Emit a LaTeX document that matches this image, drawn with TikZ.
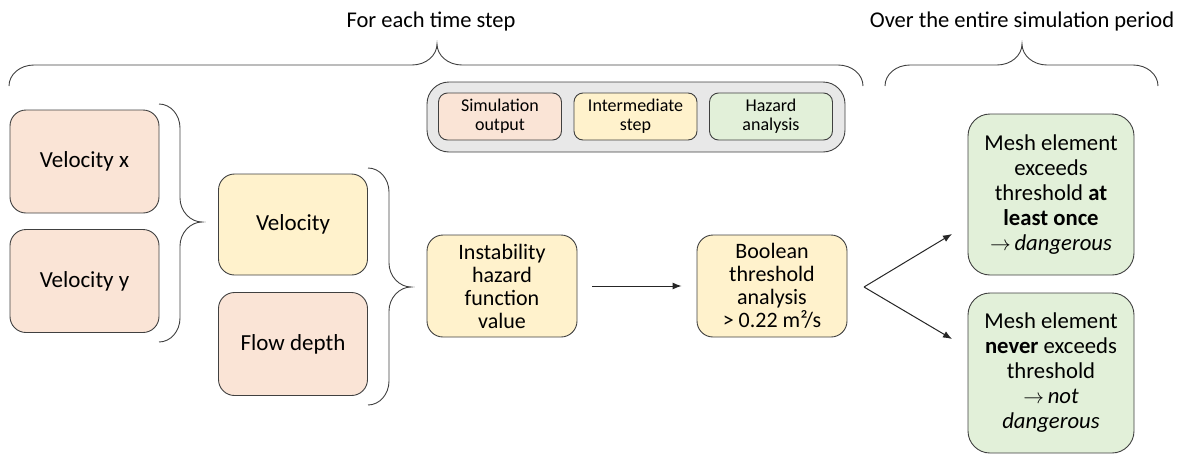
\documentclass[tikz,border=0pt]{standalone}
\usepackage{fontspec}
\setmainfont{Carlito}
\usetikzlibrary{arrows.meta}
\definecolor{simout}{RGB}{250,228,214}
\definecolor{interm}{RGB}{255,242,204}
\definecolor{hazard}{RGB}{226,240,217}
\definecolor{legendgray}{RGB}{232,232,232}
\definecolor{edgegray}{RGB}{64,64,64}

\tikzset{
  box/.style={draw=edgegray, line width=0.9pt, rounded corners=16pt, minimum width=149pt,
    minimum height=103pt, inner sep=0pt, align=center, font=\fontsize{23}{20}\selectfont},
  keybox/.style={draw=edgegray, line width=0.9pt, rounded corners=9pt, minimum width=123pt,
    minimum height=47pt, inner sep=0pt, align=center, font=\fontsize{18}{19}\selectfont},
  heading/.style={font=\fontsize{22.5}{24}\selectfont},
  bracepath/.style={draw=black!75, line width=0.9pt},
  flow/.style={draw=black!85, line width=1pt, -{Latex[length=9pt,width=7pt]}},
}

\begin{document}
\begin{tikzpicture}[x=1pt, y=-1pt]
\useasboundingbox (0,0) rectangle (1184,453);
% headings
\node[heading] (lbleach) at (431,21) {For each time step};
\node[heading] (lblover) at (1022,21) {Over the entire simulation period};
\foreach \xa/\xt/\xb in {9/437/863, 885/1022/1158} {
  \draw[bracepath] (\xa,86) .. controls (\xa,74.4) and ({\xa+11},65) .. ({\xa+25},65)
    -- ({\xt-25},65) .. controls ({\xt-11},65) and (\xt,55.4) .. (\xt,44)
    .. controls (\xt,55.4) and ({\xt+11},65) .. ({\xt+25},65)
    -- ({\xb-25},65) .. controls ({\xb-11},65) and (\xb,74.4) .. (\xb,86);
}
% legend
\node[draw=edgegray, line width=0.9pt, fill=legendgray, rounded corners=22pt,
  minimum width=418pt, minimum height=70pt] (legend) at (636,117) {};
\node[keybox, fill=simout] (keysim) at (500,116.5) {Simulation\\output};
\node[keybox, fill=interm] (keyint) at (635.5,116.5) {Intermediate\\step};
\node[keybox, fill=hazard] (keyhaz) at (771,116.5) {Hazard\\analysis};
% inputs
\node[box, fill=simout] (velx) at (84.5,161.5) {Velocity x};
\node[box, fill=simout] (vely) at (84.5,281) {Velocity y};
\node[box, fill=interm, minimum height=101pt] (vel) at (293,224.5) {Velocity};
\node[box, fill=simout] (depth) at (293,344) {Flow depth};
\foreach \x/\ya/\yt/\yb in {159/104/222/342, 368/168/287/405} {
  \draw[bracepath] (\x,\ya) .. controls ({\x+11.6},\ya) and ({\x+21},{\ya+10.8}) .. ({\x+21},{\ya+24})
    -- ({\x+21},{\yt-24}) .. controls ({\x+21},{\yt-10.8}) and ({\x+31.4},\yt) .. ({\x+43},\yt)
    .. controls ({\x+31.4},\yt) and ({\x+21},{\yt+10.8}) .. ({\x+21},{\yt+24})
    -- ({\x+21},{\yb-24}) .. controls ({\x+21},{\yb-10.8}) and ({\x+11.6},\yb) .. (\x,\yb);
}
% analysis
\node[box, fill=interm, minimum width=150pt, minimum height=102pt,
  font=\fontsize{22}{23}\selectfont] (ihf) at (502,286) {Instability\\hazard\\function\\value};
\node[box, fill=interm, minimum width=150pt, minimum height=102pt,
  font=\fontsize{22}{23}\selectfont] (thresh) at (772,286) {Boolean\\threshold\\analysis\\> 0.22 m²/s};
\draw[flow, shorten <=15pt, shorten >=15pt] (ihf) -- (thresh);
% outcome
\node[box, fill=hazard, minimum width=166pt, minimum height=161pt, rounded corners=22pt,
  font=\fontsize{22.7}{25}\selectfont] (danger) at (1051,194.5)
  {Mesh element\\exceeds\\threshold \textbf{at}\\\textbf{least once}\\$\rightarrow$\,\textit{dangerous}};
\node[box, fill=hazard, minimum width=166pt, minimum height=160pt, rounded corners=22pt,
  font=\fontsize{22.7}{25}\selectfont] (safe) at (1051,373)
  {Mesh element\\\textbf{never} exceeds\\threshold\\$\rightarrow$\,\textit{not}\\\textit{dangerous}};
\coordinate (fork) at (864,287);
\coordinate (tipup) at (952,234);
\coordinate (tipdown) at (952,339);
\draw[flow] (fork) -- (tipup);
\draw[flow] (fork) -- (tipdown);
\end{tikzpicture}
\end{document}
